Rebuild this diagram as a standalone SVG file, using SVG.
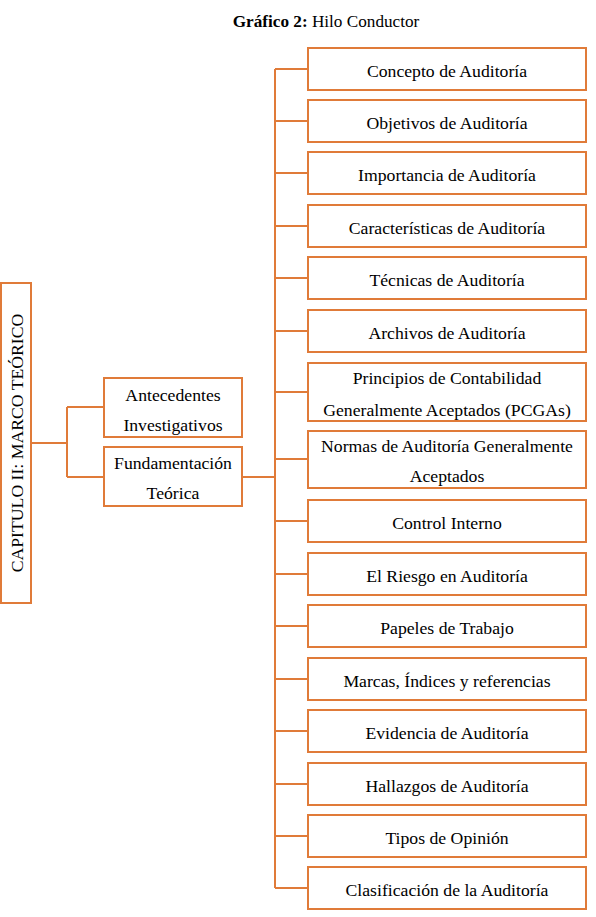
<svg xmlns="http://www.w3.org/2000/svg" width="596" height="917" viewBox="0 0 596 917">
<style>
.b{fill:#fff;stroke:#E07B39;stroke-width:2}
.c{fill:none;stroke:#E07B39;stroke-width:2}
text{font-family:"Liberation Serif","Times New Roman",serif;font-size:17.7px;fill:#000;text-anchor:middle}
</style>
<rect width="596" height="917" fill="#fff"/>
<text x="326" y="27" font-size="17.2px" style="font-size:17.2px"><tspan font-weight="bold">Gráfico 2:</tspan> Hilo Conductor</text>
<g id="connectors">
<path class="c" d="M31,443H67M67,407V477M67,407H104M67,477H104"/>
<path class="c" d="M242,477H275M275,69V888"/>
<path class="c" d="M275,69H308M275,121H308M275,173H308M275,226H308M275,278H308M275,331H308M275,392H308M275,459H308M275,521H308M275,574H308M275,626H308M275,679H308M275,731H308M275,784H308M275,836H308M275,888H308"/>
</g>
<g id="capitulo"><rect class="b" x="1" y="283" width="30" height="320"/><text transform="translate(23,443) rotate(-90)">CAPITULO II: MARCO TEÓRICO</text></g>
<g id="antecedentes"><rect class="b" x="104" y="378" width="138" height="59"/><text x="173" y="401">Antecedentes</text><text x="173" y="431">Investigativos</text></g>
<g id="fundamentacion"><rect class="b" x="104" y="447" width="138" height="59"/><text x="173" y="469">Fundamentación</text><text x="173" y="499">Teórica</text></g>
<g id="n1"><rect class="b" x="308" y="48" width="278" height="42"/><text x="447" y="77">Concepto de Auditoría</text></g>
<g id="n2"><rect class="b" x="308" y="100" width="278" height="42"/><text x="447" y="129">Objetivos de Auditoría</text></g>
<g id="n3"><rect class="b" x="308" y="152" width="278" height="42"/><text x="447" y="181">Importancia de Auditoría</text></g>
<g id="n4"><rect class="b" x="308" y="205" width="278" height="42"/><text x="447" y="234">Características de Auditoría</text></g>
<g id="n5"><rect class="b" x="308" y="257" width="278" height="42"/><text x="447" y="286">Técnicas de Auditoría</text></g>
<g id="n6"><rect class="b" x="308" y="310" width="278" height="42"/><text x="447" y="339">Archivos de Auditoría</text></g>
<g id="n7"><rect class="b" x="308" y="363" width="278" height="58"/><text x="447" y="384">Principios de Contabilidad</text><text x="447" y="416">Generalmente Aceptados (PCGAs)</text></g>
<g id="n8"><rect class="b" x="308" y="431" width="278" height="57"/><text x="447" y="452">Normas de Auditoría Generalmente</text><text x="447" y="482">Aceptados</text></g>
<g id="n9"><rect class="b" x="308" y="500" width="278" height="42"/><text x="447" y="529">Control Interno</text></g>
<g id="n10"><rect class="b" x="308" y="553" width="278" height="42"/><text x="447" y="582">El Riesgo en Auditoría</text></g>
<g id="n11"><rect class="b" x="308" y="605" width="278" height="42"/><text x="447" y="634">Papeles de Trabajo</text></g>
<g id="n12"><rect class="b" x="308" y="658" width="278" height="42"/><text x="447" y="687">Marcas, Índices y referencias</text></g>
<g id="n13"><rect class="b" x="308" y="710" width="278" height="42"/><text x="447" y="739">Evidencia de Auditoría</text></g>
<g id="n14"><rect class="b" x="308" y="763" width="278" height="42"/><text x="447" y="792">Hallazgos de Auditoría</text></g>
<g id="n15"><rect class="b" x="308" y="815" width="278" height="42"/><text x="447" y="844">Tipos de Opinión</text></g>
<g id="n16"><rect class="b" x="308" y="867" width="278" height="42"/><text x="447" y="896">Clasificación de la Auditoría</text></g>
</svg>
